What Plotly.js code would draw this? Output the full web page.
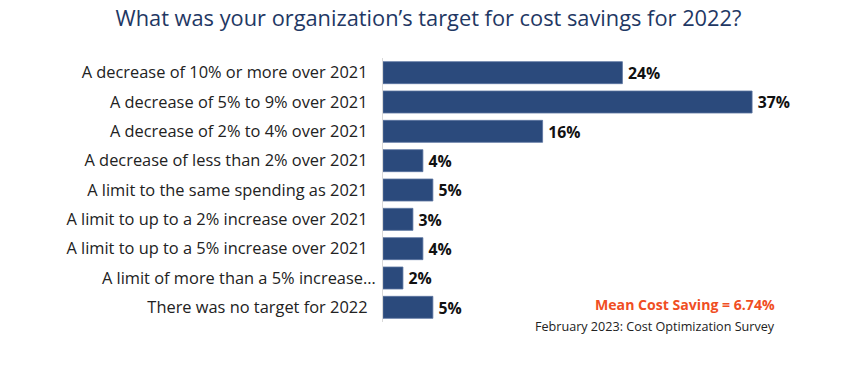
<!DOCTYPE html>
<html><head><meta charset="utf-8">
<script src="https://cdn.plot.ly/plotly-3.0.1.min.js"></script>
<style>html,body{margin:0;padding:0;background:#fff}#chart{width:857px;height:368px}</style>
</head><body><div id="chart"></div>
<script>
const categories = [
  "A decrease of 10% or more over 2021",
  "A decrease of 5% to 9% over 2021",
  "A decrease of 2% to 4% over 2021",
  "A decrease of less than 2% over 2021",
  "A limit to the same spending as 2021",
  "A limit to up to a 2% increase over 2021",
  "A limit to up to a 5% increase over 2021",
  "A limit of more than a 5% increase…",
  "There was no target for 2022"
];
const values = [24, 37, 16, 4, 5, 3, 4, 2, 5];
const titleText = "What was your organization’s target for cost savings for 2022?";
const meanText = "Mean Cost Saving = 6.74%";
const sourceText = "February 2023: Cost Optimization Survey";

const font = "'Open Sans', 'Noto Sans', sans-serif";
// truncated label overflows closer to the axis, as in the original
const tickText = categories.map(c => c.endsWith('…') ? c : c + '\u2002');
Plotly.newPlot('chart', [{
  type: 'bar', orientation: 'h',
  y: categories, x: values,
  marker: {color: '#2B4A7C', line: {color: '#5A74A0', width: 0.8}},
  text: values.map(v => '\u2009' + v + '%'), textposition: 'outside',
  textfont: {family: font, size: 16.5, color: '#111', weight: 'bold'},
  cliponaxis: false, hoverinfo: 'none'
}], {
  width: 857, height: 368,
  margin: {l: 383, r: 75, t: 58, b: 46},
  paper_bgcolor: '#fff', plot_bgcolor: '#fff',
  bargap: 0.25,
  showlegend: false,
  title: {text: titleText, x: 0.5, xanchor: 'center', y: 0.95, yanchor: 'middle',
          font: {family: font, size: 21.8, color: '#1F3864'}},
  xaxis: {range: [0, 40], visible: false, fixedrange: true},
  yaxis: {autorange: 'reversed', showgrid: false, zeroline: false,
          showline: true, linecolor: '#D9D9D9', linewidth: 1, ticks: '',
          tickmode: 'array', tickvals: categories, ticktext: tickText,
          ticklabelstandoff: 3,
          tickfont: {family: font, size: 16.4, color: '#222'}},
  annotations: [
    {text: meanText, xref: 'paper', yref: 'paper', x: 777, y: 304, showarrow: false,
     xanchor: 'right', yanchor: 'middle',
     font: {family: font, size: 14.1, color: '#F04E23', weight: 'bold'}},
    {text: sourceText, xref: 'paper', yref: 'paper', x: 777, y: 326, showarrow: false,
     xanchor: 'right', yanchor: 'middle',
     font: {family: font, size: 12.6, color: '#222'}}
  ].map(a => Object.assign(a, {x: (a.x - 383) / 399, y: (322 - a.y) / 264}))
}, {displayModeBar: false, staticPlot: true});
</script></body></html>
